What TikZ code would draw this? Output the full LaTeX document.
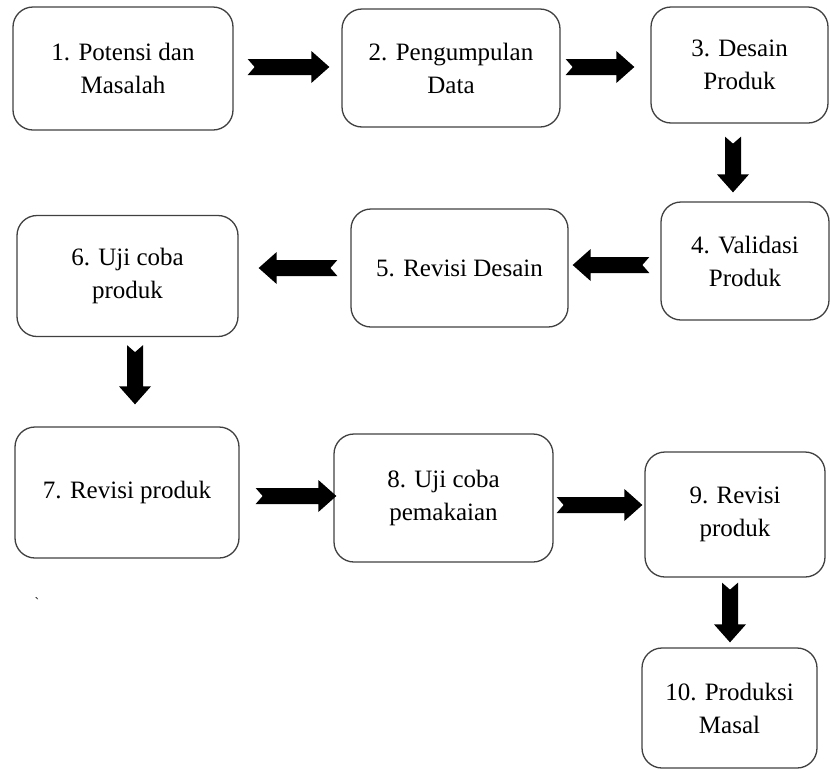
\documentclass[tikz,border=0pt]{standalone}
\usepackage{fontspec}
\setmainfont{Liberation Serif}
\usepackage{tikz}
\usetikzlibrary{calc}

% notched block arrow from #1 (tail) to #2 (tip)
\newcommand{\notcharrow}[2]{%
  \coordinate (hb) at ($(#2)!18pt!(#1)$);
  \fill[arrowfill] ($(#1)!8pt!90:(#2)$) -- ($(hb)!8pt!90:(#2)$) -- ($(hb)!16pt!90:(#2)$) -- (#2)
    -- ($(hb)!16pt!-90:(#2)$) -- ($(hb)!8pt!-90:(#2)$) -- ($(#1)!8pt!-90:(#2)$) -- ($(#1)!7pt!(#2)$) -- cycle;}

\begin{document}
\begin{tikzpicture}[x=1pt, y=-1pt,
    box/.style={rectangle, rounded corners=20pt, draw=black!75, line width=1.3pt, align=center,
                font=\fontsize{25}{33}\selectfont},
    arrowfill/.style={fill=black}]
    \useasboundingbox (0,0) rectangle (830,769);

    % Nodes
    \node (Potensi)    [box, minimum width=220, minimum height=123] at (123,68.5) {1. Potensi dan\\Masalah};
    \node (Data)       [box, minimum width=218, minimum height=118] at (451,68) {2. Pengumpulan\\Data};
    \node (Desain)     [box, minimum width=177, minimum height=116] at (739.5,65) {3. Desain\\Produk};
    \node (Validasi)   [box, minimum width=168, minimum height=118] at (745,261) {4. Validasi\\Produk};
    \node (RevDesain)  [box, minimum width=217, minimum height=118] at (459.5,268) {5. Revisi Desain};
    \node (UjiCoba)    [box, minimum width=221, minimum height=121] at (127.5,276) {6. Uji coba\\produk};
    \node (RevProduk)  [box, minimum width=224, minimum height=131] at (127,492.5) {7. Revisi produk};
    \node (Pemakaian)  [box, minimum width=219, minimum height=128] at (443.5,498) {8. Uji coba\\pemakaian};
    \node (RevProdukB) [box, minimum width=180, minimum height=125] at (735,514.5) {9. Revisi\\produk};
    \node (Masal)      [box, minimum width=175, minimum height=120] at (729.5,708) {10. Produksi\\Masal};
    \node (tick) at (37,603) {\fontsize{14}{14}\selectfont\textasciigrave};

    % Arrows
    \coordinate (s12) at ($(Potensi.east)+(14,-1.5)$);
    \coordinate (t12) at ($(s12 -| Data.west)+(-12,0)$);
    \notcharrow{s12}{t12}

    \coordinate (s23) at ($(Data.east)+(5,-1)$);
    \coordinate (t23) at ($(s23 -| Desain.west)+(-16,0)$);
    \notcharrow{s23}{t23}

    \coordinate (s34) at ($(Desain.south)+(-6.5,13)$);
    \coordinate (t34) at ($(s34 |- Validasi.north)+(0,-9)$);
    \notcharrow{s34}{t34}

    \coordinate (s45) at ($(Validasi.west)+(-11,4)$);
    \coordinate (t45) at ($(s45 -| RevDesain.east)+(4,0)$);
    \notcharrow{s45}{t45}

    \coordinate (s56) at ($(RevDesain.west)+(-13,0)$);
    \coordinate (t56) at ($(s56 -| UjiCoba.east)+(20,0)$);
    \notcharrow{s56}{t56}

    \coordinate (s67) at ($(UjiCoba.south)+(7.5,8)$);
    \coordinate (t67) at ($(s67 |- RevProduk.north)+(0,-22)$);
    \notcharrow{s67}{t67}

    \coordinate (s78) at ($(RevProduk.east)+(16,3.5)$);
    \coordinate (t78) at ($(s78 -| Pemakaian.west)+(3,0)$);
    \notcharrow{s78}{t78}

    \coordinate (s89) at ($(Pemakaian.east)+(3,7)$);
    \coordinate (t89) at ($(s89 -| RevProdukB.west)+(-2,0)$);
    \notcharrow{s89}{t89}

    \coordinate (s910) at ($(RevProdukB.south)+(-5,5)$);
    \coordinate (t910) at ($(s910 |- Masal.north)+(0,-5)$);
    \notcharrow{s910}{t910}
\end{tikzpicture}
\end{document}
